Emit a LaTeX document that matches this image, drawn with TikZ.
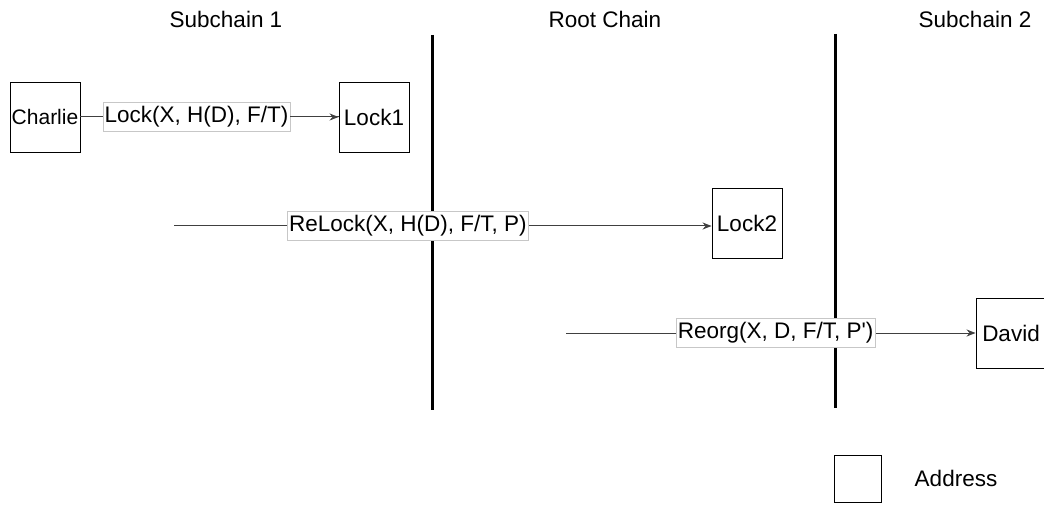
\documentclass[tikz,border=0pt]{standalone}
\usepackage{fontspec}
\setmainfont{Liberation Sans}
\usetikzlibrary{arrows.meta}
\begin{document}
\begin{tikzpicture}[x=1pt,y=-1pt,
  every node/.style={font=\fontsize{22.5}{26}\selectfont},
  addr/.style={draw=black,line width=0.9pt,minimum width=70pt,minimum height=70pt,inner sep=0pt,fill=white},
  lbl/.style={draw=black!22,line width=0.6pt,fill=white,inner sep=1.5pt,minimum height=29pt},
  conn/.style={draw=black!75,line width=1pt,-{Stealth[length=9pt,width=7pt]}},
  plainline/.style={draw=black!75,line width=1pt},
  chain/.style={line width=3pt,draw=black},
  hdr/.style={inner sep=0pt}]
\useasboundingbox (0,0) rectangle (1044,505);
% headers
\node[hdr] (h1) at (226,19) {Subchain 1};
\node[hdr] (h2) at (605,19) {Root Chain};
\node[hdr] (h3) at (975,19) {Subchain 2};
% chain separators
\coordinate (v1t) at (432,35); \coordinate (v1b) at (432,410);
\coordinate (v2t) at (835,34); \coordinate (v2b) at (835,408);
\draw[chain] (v1t) -- (v1b);
\draw[chain] (v2t) -- (v2b);
% boxes
\node[addr,font=\fontsize{21}{24}\selectfont] (charlie) at (45,117) {Charlie};
\node[addr] (lock1) at (374,117) {Lock1};
\node[addr] (lock2) at (747,223) {Lock2};
\node[addr] (david) at (1011,333) {David};
% connectors
\draw[plainline] (charlie.east) -- node[lbl,pos=0.45] (l1) {Lock(X, H(D), F/T)} (lock1.west);
\draw[conn] (l1.east) -- (lock1.west);
\coordinate (s2) at (174,226);
\draw[conn] (s2) -- node[lbl,pos=0.435] (l2) {ReLock(X, H(D), F/T, P)} (lock2.west |- s2);
\coordinate (s3) at (566,333);
\draw[conn] (s3) -- node[lbl,pos=0.512] (l3) {Reorg(X, D, F/T, P\textquotesingle)} (david.west);
% legend
\node[addr,minimum width=47pt,minimum height=47pt] (legend) at (858,479) {};
\node[hdr] (legendtxt) at (956,478) {Address};
\end{tikzpicture}
\end{document}
